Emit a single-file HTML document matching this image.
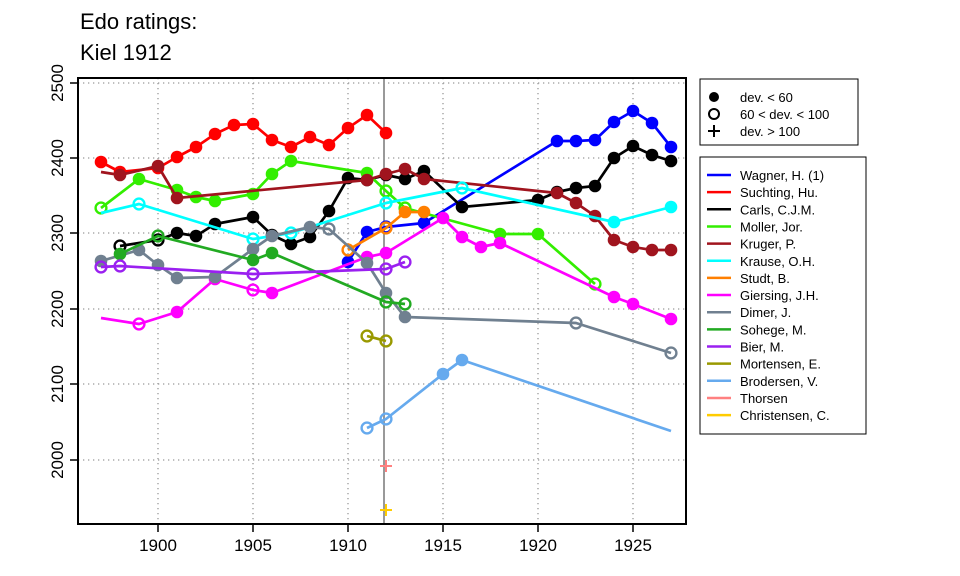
<!DOCTYPE html>
<html><head><meta charset="utf-8"><style>body{margin:0;background:#fff}svg{display:block;font-family:"Liberation Sans",sans-serif}</style></head>
<body>
<svg id="s" width="960" height="576" xmlns="http://www.w3.org/2000/svg">
<rect width="960" height="576" fill="#fff"/>
<text x="80" y="29" font-size="22">Edo ratings:</text>
<text x="80" y="60" font-size="22">Kiel 1912</text>
<g id="grid" stroke="#999" stroke-width="1.3" stroke-dasharray="1.3,3.7"></g>
<line x1="384" y1="78" x2="384" y2="524" stroke="#999" stroke-width="2"/>
<g id="series"></g>
<rect x="78" y="78" width="608" height="446" fill="none" stroke="#000" stroke-width="2"/>
<g id="axes" font-size="17"></g>
<g font-size="13">
<rect x="700" y="79" width="158" height="66" fill="#fff" stroke="#000"/>
<circle cx="714" cy="97" r="5" fill="#000"/><text x="740" y="102">dev. &lt; 60</text>
<circle cx="714" cy="114" r="5" fill="none" stroke="#000" stroke-width="2"/><text x="740" y="119">60 &lt; dev. &lt; 100</text>
<path d="M708,131h12M714,125v12" stroke="#000" stroke-width="2"/><text x="740" y="136">dev. &gt; 100</text>
<rect x="700" y="157" width="166" height="277" fill="#fff" stroke="#000"/>
<g id="leg"></g>
</g>
</svg>
<script>
const NS="http://www.w3.org/2000/svg";
function el(p,t,a,txt){const e=document.createElementNS(NS,t);for(const k in a)e.setAttribute(k,a[k]);if(txt)e.textContent=txt;p.appendChild(e);return e;}
const X=y=>158+19*(y-1900);
const grid=document.getElementById('grid'),axes=document.getElementById('axes');
[1900,1905,1910,1915,1920,1925].forEach(y=>{el(grid,'line',{x1:X(y),y1:78,x2:X(y),y2:524});el(axes,'line',{x1:X(y),y1:524,x2:X(y),y2:532,stroke:'#000','stroke-width':1.5});el(axes,'text',{x:X(y),y:551,'text-anchor':'middle'},y)});
[[2500,83],[2400,158],[2300,233],[2200,309],[2100,384],[2000,460]].forEach(([v,y])=>{el(grid,'line',{x1:78,y1:y,x2:686,y2:y});el(axes,'line',{x1:70,y1:y,x2:78,y2:y,stroke:'#000','stroke-width':1.5});el(axes,'text',{x:63,y:y,'text-anchor':'middle',transform:`rotate(-90 63 ${y})`},v)});
const S=[
['Wagner, H. (1)','#0000ff',[[1910,262,1],[1911,232,1],[1912,227,0],[1914,223,1],[1921,141,1],[1922,141,1],[1923,140,1],[1924,122,1],[1925,111,1],[1926,123,1],[1927,147,1]]],
['Suchting, Hu.','#ff0000',[[1897,162,1],[1898,172,1],[1900,168,1],[1901,157,1],[1902,147,1],[1903,134,1],[1904,125,1],[1905,124,1],[1906,140,1],[1907,147,1],[1908,137,1],[1909,145,1],[1910,128,1],[1911,115,1],[1912,133,1]]],
['Carls, C.J.M.','#000000',[[1898,246,0],[1900,240,0],[1901,233,1],[1902,236,1],[1903,224,1],[1905,217,1],[1906,235,1],[1907,244,1],[1908,237,1],[1909,211,1],[1910,178,1],[1911,180,1],[1912,175,1],[1913,179,1],[1914,171,1],[1916,207,1],[1920,200,1],[1921,192,1],[1922,188,1],[1923,186,1],[1924,158,1],[1925,146,1],[1926,155,1],[1927,161,1]]],
['Moller, Jor.','#33ee00',[[1897,208,0],[1899,179,1],[1901,190,1],[1902,197,1],[1903,201,1],[1905,194,1],[1906,174,1],[1907,161,1],[1911,173,1],[1912,191,0],[1913,208,0],[1918,234,1],[1920,234,1],[1923,284,0]]],
['Kruger, P.','#a0141e',[[1897,172,-1],[1898,175,1],[1900,166,1],[1901,198,1],[1911,180,1],[1912,174,1],[1913,169,1],[1914,179,1],[1921,193,1],[1922,203,1],[1923,216,1],[1924,240,1],[1925,247,1],[1926,250,1],[1927,250,1]]],
['Krause, O.H.','#00ffff',[[1897,213,-1],[1899,204,0],[1905,239,0],[1907,233,0],[1912,203,0],[1916,188,0],[1924,222,1],[1927,207,1]]],
['Studt, B.','#ff7f00',[[1910,250,0],[1912,228,0],[1913,212,1],[1914,212,1]]],
['Giersing, J.H.','#ff00ff',[[1897,318,-1],[1899,324,0],[1901,312,1],[1903,279,1],[1905,290,0],[1906,293,1],[1911,257,1],[1912,253,1],[1915,218,1],[1916,237,1],[1917,247,1],[1918,243,1],[1924,297,1],[1925,304,1],[1927,319,1]]],
['Dimer, J.','#708090',[[1897,261,1],[1899,250,1],[1900,265,1],[1901,278,1],[1903,277,1],[1905,249,1],[1906,236,1],[1908,227,1],[1909,229,0],[1911,263,1],[1912,293,1],[1913,317,1],[1922,323,0],[1927,353,0]]],
['Sohege, M.','#22aa22',[[1898,254,1],[1900,236,0],[1905,260,1],[1906,253,1],[1912,302,0],[1913,304,0]]],
['Bier, M.','#9a20f0',[[1897,267,0],[1898,266,0],[1905,274,0],[1912,269,0],[1913,262,0]]],
['Mortensen, E.','#999900',[[1911,336,0],[1912,341,0]]],
['Brodersen, V.','#66aaee',[[1911,428,0],[1912,419,0],[1915,374,1],[1916,360,1],[1927,431,-1]]],
['Thorsen','#ff8080',[[1912,466,2]]],
['Christensen, C.','#ffcc00',[[1912,510,2]]]];
const g=document.getElementById('series'),leg=document.getElementById('leg');
S.forEach((s,i)=>{const [n,c,p]=s;
 if(p.length>1)el(g,'polyline',{points:p.map(q=>X(q[0])+','+q[1]).join(' '),fill:'none',stroke:c,'stroke-width':2.7,'stroke-linejoin':'round'});
 p.forEach(q=>{const x=X(q[0]),y=q[1];
  if(q[2]==1)el(g,'circle',{cx:x,cy:y,r:6.3,fill:c});
  else if(q[2]==0)el(g,'circle',{cx:x,cy:y,r:5.4,fill:'none',stroke:c,'stroke-width':2.4});
  else if(q[2]==2)el(g,'path',{d:`M${x-6},${y}h12M${x},${y-6}v12`,stroke:c,'stroke-width':2});});
 const ly=175+17.15*i;
 el(leg,'line',{x1:707,y1:ly,x2:731,y2:ly,stroke:c,'stroke-width':2.5});
 el(leg,'text',{x:740,y:ly+5},n);
});
</script>
</body></html>
